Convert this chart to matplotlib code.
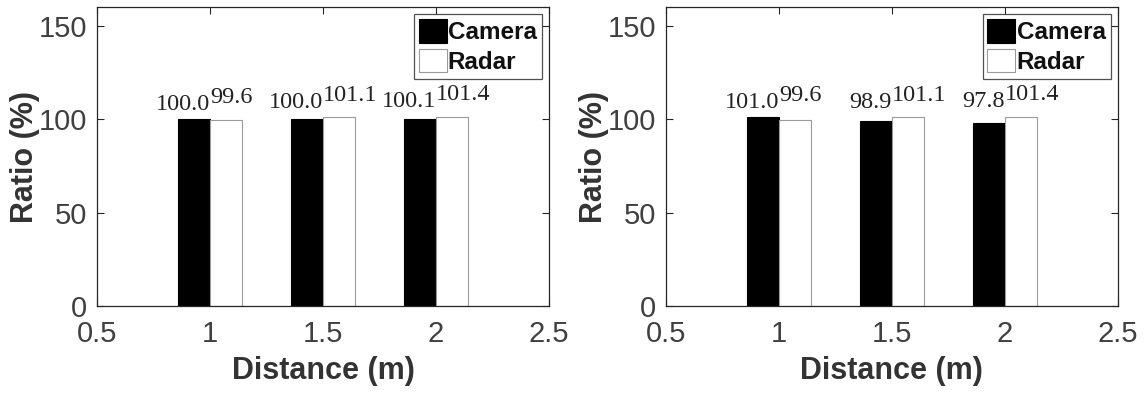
import matplotlib.pyplot as plt
import numpy as np

# distances (m) and ratios (%) for each sensor, two test cases
distances = [1.0, 1.5, 2.0]
camera_a = [100.0, 100.0, 100.1]
radar_a = [99.6, 101.1, 101.4]
camera_b = [101.0, 98.9, 97.8]
radar_b = [99.6, 101.1, 101.4]

AX_COL = "#262626"
TXT_COL = "#404040"
BAR_W = 0.142

plt.rcParams["font.family"] = ["Liberation Sans", "DejaVu Sans"]

fig = plt.figure(figsize=(11.48, 3.93), dpi=100)


def panel(ax, cam, rad):
    x = np.array(distances)
    ax.bar(x - BAR_W / 2, cam, BAR_W, color="black", edgecolor="black",
           linewidth=0.8, label="Camera", zorder=2)
    ax.bar(x + BAR_W / 2, rad, BAR_W, color="white", edgecolor="#9a9a9a",
           linewidth=0.8, label="Radar", zorder=2)
    for xi, c, r in zip(x, cam, rad):
        top = max(c, r, 100)
        ax.text(xi, top + 5.0, f"{c:.1f}", ha="right", va="baseline",
                family="Liberation Serif", fontsize=17.5, color="#222222")
        ax.text(xi, top + 8.8, f"{r:.1f}", ha="left", va="baseline",
                family="Liberation Serif", fontsize=17.5, color="#222222")

    ax.set_xlim(0.5, 2.5)
    ax.set_ylim(0, 160)
    ax.set_xticks([0.5, 1, 1.5, 2, 2.5])
    ax.set_xticklabels(["0.5", "1", "1.5", "2", "2.5"])
    ax.set_yticks([0, 50, 100, 150])
    ax.tick_params(direction="in", length=5, width=0.8, color=AX_COL,
                   labelsize=21, labelcolor=TXT_COL, top=True, right=True)
    ax.tick_params(axis="x", pad=10)
    ax.tick_params(axis="y", pad=7)
    for s in ax.spines.values():
        s.set_color(AX_COL)
        s.set_linewidth(0.9)
    ax.set_xlabel("Distance (m)", fontsize=22, fontweight="bold",
                  color="#333333", labelpad=6)
    ax.set_ylabel("Ratio (%)", fontsize=22, fontweight="bold",
                  color="#333333", labelpad=-1)
    leg = ax.legend(loc="upper right", fontsize=17.5, frameon=True,
                    fancybox=False, edgecolor=AX_COL, borderaxespad=0.3,
                    handlelength=1.15, handleheight=1.1, handletextpad=0.05,
                    labelspacing=0.2, borderpad=0.2)
    leg.get_frame().set_linewidth(0.9)
    for t in leg.get_texts():
        t.set_fontweight("bold")
        t.set_color("#111111")


ax1 = fig.add_axes([0.0845, 0.221, 0.3937, 0.761])
panel(ax1, camera_a, radar_a)
ax2 = fig.add_axes([0.580, 0.221, 0.3937, 0.761])
panel(ax2, camera_b, radar_b)

fig.savefig("out.png", dpi=100)
